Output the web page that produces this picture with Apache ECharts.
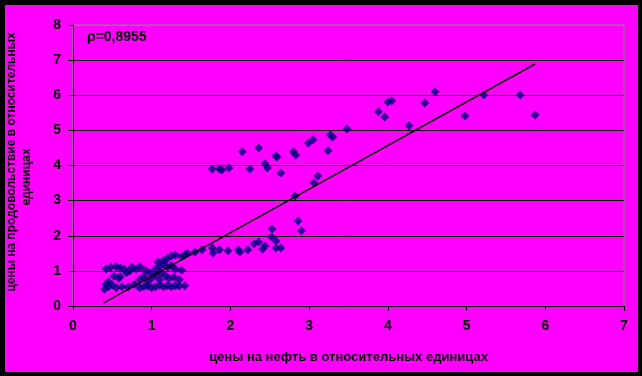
<!DOCTYPE html>
<html>
<head>
<meta charset="utf-8">
<script src="https://cdn.jsdelivr.net/npm/echarts@6/dist/echarts.min.js"></script>
<style>
    html, body { margin: 0; padding: 0; background: #000; }
    #wrap { position: relative; width: 642px; height: 376px; background: #000; }
    #chart { position: absolute; left: 5px; top: 5px; width: 633px; height: 367px; }
</style>
</head>
<body>
<div id="wrap"><div id="chart"></div></div>
<script>
// цены на нефть (x) и цены на продовольствие (y), относительные единицы
const priceX = [
    4.60, 5.22, 5.68, 5.87, 4.98, 4.27, 4.47, 3.88, 3.96, 4.00, 4.05,
    3.48, 3.27, 3.30, 3.05, 2.99, 3.24, 2.80, 2.83, 2.36, 2.15, 2.58, 2.59,
    2.44, 2.47, 2.25, 2.64, 1.77, 1.86, 1.89, 1.98, 3.11, 3.06, 2.82, 2.86, 2.90,
    2.53, 2.52, 2.58, 2.58, 2.64, 2.36, 2.30, 2.44, 2.41, 2.22, 2.10, 2.12,
    1.97, 1.86, 1.77, 1.78, 1.64, 1.55, 1.42,
    0.42, 0.45, 0.50, 0.55, 0.62, 0.70, 0.78, 0.85, 0.90, 0.95, 1.00, 1.05,
    1.10, 1.15, 1.20, 1.25, 1.30, 1.35, 1.42,
    0.42, 0.48, 0.55, 0.60, 0.65, 0.72, 0.75, 0.80, 0.85, 0.92, 0.98, 1.05,
    1.10, 1.15, 1.20, 1.25, 1.30, 1.38,
    0.45, 0.52, 0.58, 0.68, 0.85, 0.90, 0.95, 1.00, 1.05, 1.10, 1.12, 1.18,
    1.22, 1.28, 1.35, 0.40, 0.60,
    1.20, 1.25, 1.30, 1.38, 1.45, 1.15, 1.08
];
const foodY = [
    6.10, 6.01, 6.01, 5.44, 5.41, 5.13, 5.78, 5.53, 5.38, 5.81, 5.84,
    5.04, 4.87, 4.81, 4.73, 4.64, 4.42, 4.39, 4.30, 4.50, 4.39, 4.27, 4.24,
    4.05, 3.93, 3.90, 3.79, 3.90, 3.90, 3.87, 3.93, 3.70, 3.50, 3.13, 2.42, 2.14,
    2.19, 1.97, 1.85, 1.65, 1.65, 1.82, 1.77, 1.71, 1.62, 1.60, 1.60, 1.54,
    1.57, 1.60, 1.65, 1.51, 1.60, 1.54, 1.45,
    0.62, 0.55, 0.60, 0.52, 0.55, 0.55, 0.62, 0.52, 0.55, 0.58, 0.52, 0.55,
    0.60, 0.55, 0.58, 0.55, 0.58, 0.57, 0.58,
    1.05, 1.10, 1.12, 1.08, 1.05, 1.00, 1.10, 1.05, 1.12, 1.02, 0.95, 1.05,
    1.12, 1.20, 1.10, 1.15, 1.05, 1.02,
    0.70, 0.85, 0.80, 0.95, 0.75, 0.85, 0.70, 0.80, 0.90, 0.75, 0.95, 0.85,
    0.78, 0.82, 0.75, 0.48, 0.83,
    1.35, 1.42, 1.45, 1.40, 1.50, 1.30, 1.25
];
// линия тренда (концы)
const trendX = [0.39, 5.87];
const trendY = [0.09, 6.89];
const xTicks = [0, 1, 2, 3, 4, 5, 6, 7];
const yTicks = [0, 1, 2, 3, 4, 5, 6, 7, 8];
const rhoLabel = 'ρ=0,8955';

const myChart = echarts.init(document.getElementById('chart'));

let points = [];
for (const i in priceX) {
    points.push([priceX[i], foodY[i]]);
}
let trend = [];
for (const i in trendX) {
    trend.push([trendX[i], trendY[i]]);
}

const font = '"Liberation Sans", Arial, sans-serif';

const option = {
    backgroundColor: '#ff00ff',
    animation: false,
    textStyle: { fontFamily: font },
    title: {
        text: rhoLabel,
        left: 82,
        top: 25,
        padding: 0,
        textStyle: { fontSize: 14, fontWeight: 'bold', color: '#000', fontFamily: font }
    },
    grid: {
        left: 68,
        top: 20,
        right: 14,
        bottom: 66,
        show: true,
        borderColor: '#808080',
        borderWidth: 1,
        backgroundColor: 'transparent'
    },
    xAxis: {
        type: 'value',
        min: xTicks[0],
        max: xTicks[xTicks.length - 1],
        interval: 1,
        name: 'цены на нефть в относительных единицах',
        nameLocation: 'middle',
        nameGap: 45,
        nameTextStyle: { fontSize: 13, fontWeight: 'bold', color: '#000', fontFamily: font },
        axisLine: { show: true, lineStyle: { color: '#000', width: 1 } },
        axisTick: { show: true, length: 5, lineStyle: { color: '#000' } },
        axisLabel: { margin: 13, fontSize: 14, fontWeight: 'bold', color: '#000', fontFamily: font },
        splitLine: { show: false }
    },
    yAxis: {
        type: 'value',
        min: yTicks[0],
        max: yTicks[yTicks.length - 1],
        interval: 1,
        axisLine: { show: true, lineStyle: { color: '#000', width: 1 } },
        axisTick: { show: true, length: 5, lineStyle: { color: '#000' } },
        axisLabel: { margin: 12, fontSize: 14, fontWeight: 'bold', color: '#000', fontFamily: font },
        splitLine: {
            show: true,
            lineStyle: {
                color: ['#000', '#000', '#000', '#000', '#000', '#000', '#000', '#000', '#808080'],
                width: 1
            }
        }
    },
    graphic: [
        {
            type: 'text',
            x: 7,
            y: 157,
            rotation: Math.PI / 2,
            style: {
                text: 'цены на продовольствие в относительных',
                font: 'bold 12px ' + font,
                fill: '#000',
                align: 'center',
                verticalAlign: 'middle'
            }
        },
        {
            type: 'text',
            x: 22,
            y: 172,
            rotation: Math.PI / 2,
            style: {
                text: 'единицах',
                font: 'bold 12px ' + font,
                fill: '#000',
                align: 'center',
                verticalAlign: 'middle'
            }
        }
    ],
    series: [
        {
            name: 'данные',
            type: 'scatter',
            symbol: 'diamond',
            symbolSize: 9,
            itemStyle: { color: '#000080' },
            data: points,
            z: 3
        },
        {
            name: 'тренд',
            type: 'line',
            symbol: 'none',
            lineStyle: { color: '#000', width: 1.5 },
            data: trend,
            z: 4
        }
    ]
};

myChart.setOption(option);
</script>
</body>
</html>
